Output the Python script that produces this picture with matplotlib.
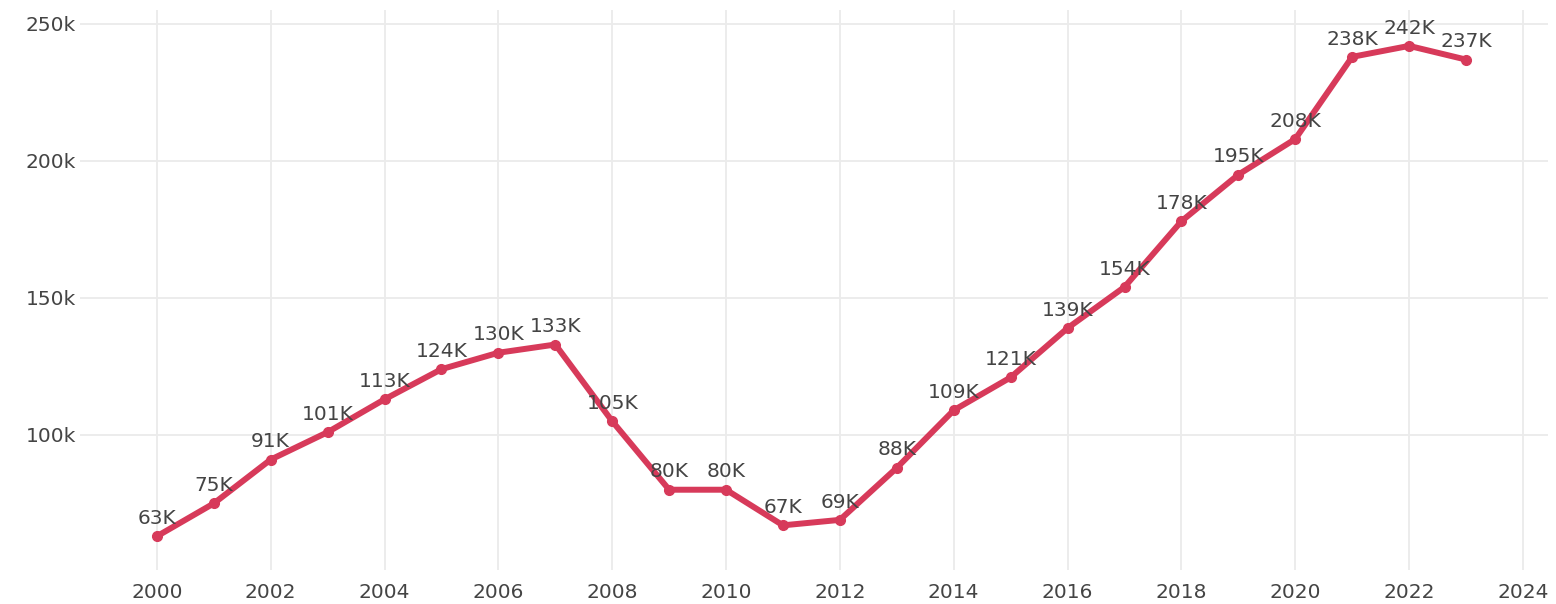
import matplotlib.pyplot as plt
import numpy as np
from matplotlib.ticker import FuncFormatter

years = list(range(2000, 2024))
values = [63, 75, 91, 101, 113, 124, 130, 133, 105, 80, 80, 67,
          69, 88, 109, 121, 139, 154, 178, 195, 208, 238, 242, 237]
labels = [f"{v}K" for v in values]
values_k = np.array(values) * 1000

x_ticks = list(range(2000, 2025, 2))
y_ticks = [100000, 150000, 200000, 250000]


def main() -> None:
    plt.rcParams["font.family"] = ["DejaVu Sans"]
    fig = plt.figure(figsize=(15.56, 6.04), dpi=100)
    ax = fig.add_axes([80 / 1556, 1 - 570 / 604, (1548 - 80) / 1556, (570 - 10) / 604])

    line_color = "#d73a5a"
    text_color = "#444444"

    ax.plot(years, values_k, color=line_color, linewidth=4.3, marker="o",
            markersize=7, solid_capstyle="round", solid_joinstyle="round", zorder=3)

    for x, y, lab in zip(years, values_k, labels):
        ax.annotate(lab, (x, y), xytext=(0, 6), textcoords="offset points",
                    ha="center", va="bottom", fontsize=14.5, color=text_color, zorder=4)

    ax.set_xlim(1998.65, 2024.44)
    ax.set_ylim(50700, 255100)
    ax.set_xticks(x_ticks)
    ax.set_yticks(y_ticks)
    ax.yaxis.set_major_formatter(FuncFormatter(lambda v, _: f"{int(v / 1000)}k"))

    ax.grid(color="#ebebeb", linewidth=1.3)
    ax.set_axisbelow(True)
    for spine in ax.spines.values():
        spine.set_visible(False)
    ax.tick_params(axis="both", length=0, labelsize=14.5, colors=text_color)
    ax.tick_params(axis="x", pad=9)
    ax.tick_params(axis="y", pad=3)

    fig.savefig("out.png", dpi=100)
    plt.close(fig)


if __name__ == "__main__":
    main()
